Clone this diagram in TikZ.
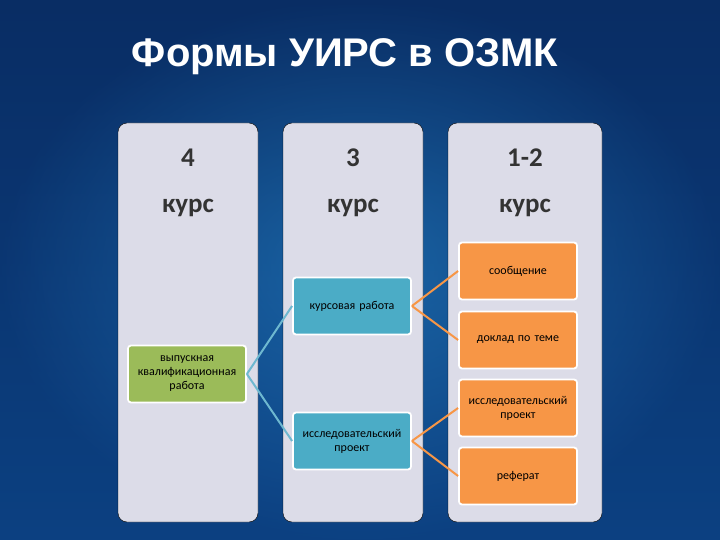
\documentclass[tikz,border=0pt]{standalone}
\usepackage{fontspec}
\setmainfont{Carlito}
\newfontfamily\titlefont{Liberation Sans}
\begin{document}
\begin{tikzpicture}[x=1pt,y=-1pt,
  col/.style={fill=colbg,rounded corners=9pt},
  hdr/.style={font=\fontsize{27}{29}\selectfont\bfseries,text=black!80},
  box/.style={draw=white,line width=1.8pt,rounded corners=3pt,minimum width=118pt,minimum height=57pt,align=center,font=\fontsize{12}{14}\selectfont,text=black,text width=114pt,inner sep=1pt},
  gbox/.style={box,fill=boxg},
  bbox/.style={box,fill=boxb},
  obox/.style={box,fill=boxo},
  bl/.style={draw=lineb,line width=2pt},
  ol/.style={draw=boxo,line width=2pt}]
\definecolor{colbg}{HTML}{DCDCE8}
\definecolor{boxg}{HTML}{9BBB59}
\definecolor{boxb}{HTML}{4BACC6}
\definecolor{boxo}{HTML}{F79646}
\definecolor{lineb}{HTML}{6EB8D0}
\useasboundingbox (0,0) rectangle (720,540);
\shade[top color={rgb,255:red,8;green,40;blue,90},bottom color={rgb,255:red,15;green,80;blue,150}] (0,0) rectangle (720,540);
\shade[inner color={rgb,255:red,40;green,140;blue,210},outer color={rgb,255:red,10;green,50;blue,110},opacity=0.5] (0,0) rectangle (720,540);
\node[font=\titlefont\fontsize{40}{42}\selectfont\bfseries,text=white] (title) at (345,57) {Формы УИРС в ОЗМК};
\draw[col] (118,123) rectangle (258,522);
\draw[col] (283,123) rectangle (423,522);
\draw[col] (448,123) rectangle (602,522);
\node[hdr] (h1) at (188,158) {4};
\node[hdr] (k1) at (188,208) {курс};
\node[hdr] (h2) at (353,158) {3};
\node[hdr] (k2) at (353,208) {курс};
\node[hdr] (h3) at (525,158) {1-2};
\node[hdr] (k3) at (525,208) {курс};
\node[gbox] (g) at (187,374) {выпускная\\квалификационная\\работа};
\node[bbox] (b1) at (352,306) {курсовая работа};
\node[bbox] (b2) at (352,441) {исследовательский\\проект};
\node[obox] (o1) at (518,271) {сообщение};
\node[obox] (o2) at (518,340) {доклад по теме};
\node[obox] (o3) at (518,408) {исследовательский\\проект};
\node[obox] (o4) at (518,476) {реферат};
\draw[bl] (g.east) -- (b1.west);
\draw[bl] (g.east) -- (b2.west);
\draw[ol] (b1.east) -- (o1.west);
\draw[ol] (b1.east) -- (o2.west);
\draw[ol] (b2.east) -- (o3.west);
\draw[ol] (b2.east) -- (o4.west);
\end{tikzpicture}
\end{document}
